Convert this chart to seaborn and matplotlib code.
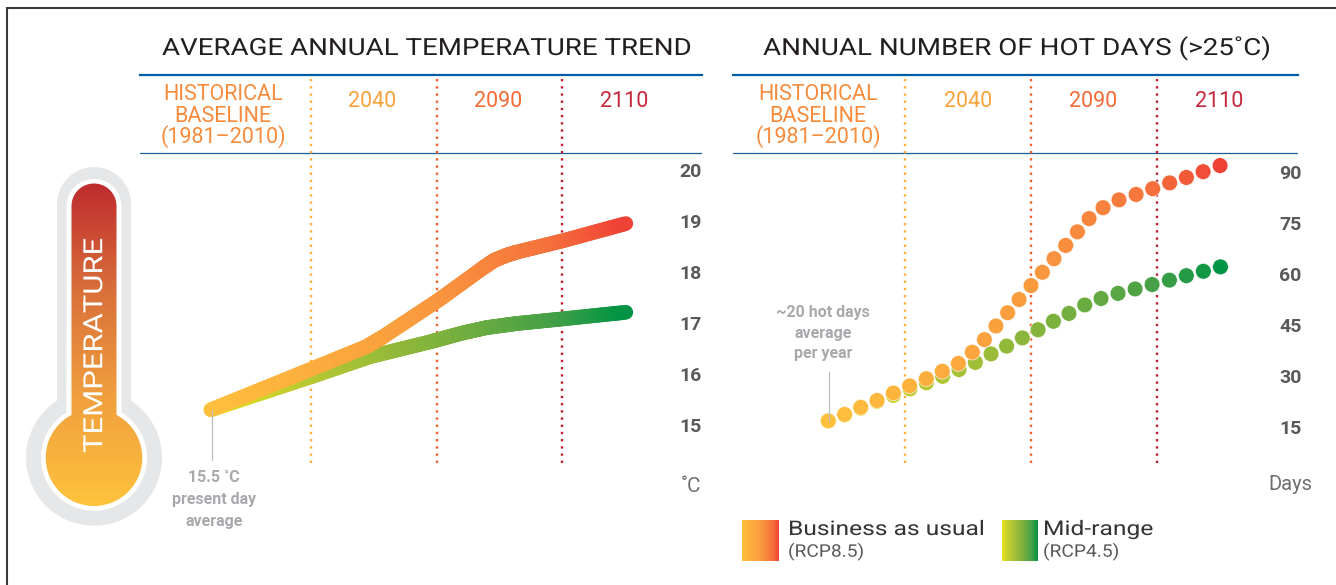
import numpy as np
import seaborn as sns
import matplotlib
matplotlib.use('Agg')
import matplotlib.pyplot as plt
import matplotlib.patheffects as pe
from matplotlib.collections import LineCollection
from matplotlib.colors import LinearSegmentedColormap
from matplotlib.patches import Polygon
from matplotlib.transforms import Affine2D

# x is measured in columns: 0, 1, 2 are the dotted lines of 2040, 2090, 2110
temp_bau_x = [-0.797, 0.006, 0.444, 0.574, 1.028, 1.37, 1.46, 1.56, 1.639, 2.002, 2.508]
temp_bau_y = [15.30, 16.10, 16.54, 16.73, 17.47, 18.08, 18.23, 18.33, 18.39, 18.61, 18.95]
temp_mid_x = [-0.797, 0.006, 0.47, 0.948, 1.2, 1.40, 1.639, 2.002, 2.508]
temp_mid_y = [15.30, 15.95, 16.34, 16.63, 16.80, 16.91, 16.99, 17.08, 17.21]

days_bau_x = [-0.613, -0.483, -0.355, -0.225, -0.095, 0.034, 0.167, 0.294, 0.422, 0.533,
              0.629, 0.721, 0.814, 0.905, 1.0, 1.09, 1.183, 1.276, 1.369, 1.462,
              1.573, 1.70, 1.836, 1.968, 2.103, 2.236, 2.369, 2.504]
days_bau_y = [16.8, 18.7, 20.8, 22.8, 25.0, 27.1, 29.2, 31.4, 33.7, 37.0,
              40.7, 44.7, 48.6, 52.5, 56.6, 60.5, 64.5, 68.4, 72.4, 76.3,
              79.5, 81.8, 83.4, 85.1, 86.8, 88.4, 90.1, 91.9]
days_mid_x = [-0.613, -0.483, -0.355, -0.225, -0.095, 0.037, 0.167, 0.297, 0.427, 0.557,
              0.682, 0.806, 0.931, 1.056, 1.178, 1.302, 1.427, 1.557, 1.692, 1.828,
              1.963, 2.101, 2.236, 2.371, 2.507]
days_mid_y = [16.8, 18.5, 20.5, 22.5, 24.3, 26.2, 28.0, 29.9, 31.9, 34.0,
              36.5, 38.8, 41.2, 43.6, 46.1, 48.4, 50.9, 52.8, 54.3, 55.6,
              56.9, 58.2, 59.5, 60.8, 62.1]

temp_ticks = [15, 16, 17, 18, 19, 20]
days_ticks = [15, 30, 45, 60, 75, 90]
period_lines = [0, 1, 2]
period_colors = ['#FBB040', '#F4602E', '#BE1E2D']
period_names = ['2040', '2090', '2110']
baseline_lines = ['HISTORICAL', 'BASELINE', '(1981–2010)']

W, H = 1336, 585

sns.set_style('white')
plt.rcParams['font.family'] = ['Roboto', 'DejaVu Sans']

bau_cmap = LinearSegmentedColormap.from_list(
    'bau', [(0, '#FFC03D'), (0.52, '#F99A3E'), (0.83, '#F5703C'), (1, '#EF4136')])
mid_cmap = LinearSegmentedColormap.from_list(
    'mid', [(0, '#E8E41E'), (0.2, '#BFCB30'), (0.5, '#8BB63B'), (0.83, '#46A047'), (1, '#009444')])
thermo_cmap = LinearSegmentedColormap.from_list(
    'thermo', ['#BE2B2E', '#D9703A', '#F0A03E', '#FFC33C'])


class Stretch(pe.AbstractPathEffect):
    def __init__(self, sx):
        super().__init__()
        self.sx = sx

    def draw_path(self, renderer, gc, tpath, affine, rgbFace=None):
        renderer.draw_path(gc, tpath, Affine2D().scale(self.sx, 1) + affine, rgbFace)


def label(x, y, s, **kw):
    kw.setdefault('ha', 'center')
    kw.setdefault('va', 'baseline')
    return fig.text(x / W, 1 - y / H, s, **kw)


def wide_label(x, y, s, width, rotation=0, **kw):
    # the source font is letter-spaced, so widen the text to the width it has there
    t = label(x, y, s, ha='left', **kw)
    have = t.get_window_extent(fig.canvas.get_renderer()).width
    t.set_path_effects([Stretch(width / have)])
    t.set_rotation(rotation)
    t.set_rotation_mode('anchor')
    return t


def chart_axes(x0, x1, y0=75, y1=463):
    ax = fig.add_axes([x0 / W, 1 - y1 / H, (x1 - x0) / W, (y1 - y0) / H], facecolor='none')
    sns.despine(ax=ax, left=True, bottom=True, right=True, top=False)
    ax.spines['top'].set_color('#005DA4')
    ax.spines['top'].set_linewidth(1.6)
    return ax


def finish_axes(ax, xlim, ylim, ticks, rule, pad):
    ax.set_xlim(xlim)
    ax.set_ylim(ylim)
    ax.set_xlabel('')
    ax.set_ylabel('')
    ax.set_xticks([])
    ax.yaxis.tick_right()
    ax.set_yticks(ticks)
    ax.tick_params(axis='y', length=0, pad=pad, labelsize=14, labelcolor='#58595B')
    for t in ax.get_yticklabels():
        t.set_fontweight('bold')
    ax.axhline(rule, color='#1B5E98', lw=0.9, zorder=1)
    for xv, col in zip(period_lines, period_colors):
        ax.axvline(xv, color=col, lw=1.7, ls=(0, (1, 2.05)), dash_capstyle='butt', zorder=1)


def gradient_line(ax, xs, ys, cmap):
    sns.lineplot(x=xs, y=ys, ax=ax, color=cmap(0.5), lw=8, sort=False, estimator=None,
                 legend=False, zorder=2)
    # colour changes along the line, so every read segment is cut into short pieces
    fine_x = np.concatenate([np.linspace(a, b, 25) for a, b in zip(xs[:-1], xs[1:])])
    fine_y = np.concatenate([np.linspace(a, b, 25) for a, b in zip(ys[:-1], ys[1:])])
    pts = np.column_stack([fine_x, fine_y])
    segs = np.stack([pts[:-1], pts[1:]], axis=1)
    tone = (fine_x[:-1] - xs[0]) / (xs[-1] - xs[0])
    ax.add_collection(LineCollection(segs, colors=cmap(tone), linewidths=10.6,
                                     capstyle='round', zorder=3))


def thermo_outline(r_tube, r_bulb, top):
    cx, cy = 94, 457.7
    drop = np.sqrt(r_bulb ** 2 - r_tube ** 2)
    a = np.linspace(np.pi, 0, 40)
    tube = np.column_stack([cx + r_tube * np.cos(a), top + r_tube - r_tube * np.sin(a)])
    start = np.arctan2(drop, r_tube)
    b = np.linspace(start, -np.pi - start, 80)
    bulb = np.column_stack([cx + r_bulb * np.cos(b), cy - r_bulb * np.sin(b)])
    return np.vstack([tube, bulb])


fig = plt.figure(figsize=(W / 100, H / 100), dpi=100, facecolor='white')

# page layer in pixels: frame, thermometer, legend swatches
bg = fig.add_axes([0, 0, 1, 1])
bg.set_axis_off()
bg.plot([7, 7, W], [H, 7.7, 7.7], color='#3A3A3C', lw=1.5, solid_joinstyle='miter')
bg.add_patch(Polygon(thermo_outline(37, 68, 167), color='#E6E7E8', lw=0))
bg.add_patch(Polygon(thermo_outline(27.5, 53, 179), color='white', lw=0))
fill = Polygon(thermo_outline(22.5, 48.3, 183.5), color='none', lw=0)
bg.add_patch(fill)
ramp = np.linspace(0, 1, 256)
im = bg.imshow(ramp[:, None], cmap=thermo_cmap, extent=(40, 150, 507, 183), aspect='auto', zorder=2)
im.set_clip_path(fill)
bg.imshow(ramp[None, :], cmap=bau_cmap, extent=(742, 779, 561, 520), aspect='auto')
bg.imshow(ramp[None, :], cmap=mid_cmap, extent=(1002, 1038, 561, 520), aspect='auto')
bg.set_xlim(0, W)
bg.set_ylim(H, 0)

# temperature chart
ax1 = chart_axes(140, 702)
gradient_line(ax1, temp_mid_x, temp_mid_y, mid_cmap)
gradient_line(ax1, temp_bau_x, temp_bau_y, bau_cmap)
ax1.plot([temp_bau_x[0] + 0.012] * 2, [temp_bau_y[0], 14.31], color='#BCBEC0', lw=0.9, zorder=4)
finish_axes(ax1, (-1.3625, 3.115), (14.255, 21.863), temp_ticks, 20.333, -16.6)

# hot days chart
ax2 = chart_axes(733, 1298)
ax2.plot([days_mid_x[0] + 0.004] * 2, [days_mid_y[0], 31.2], color='#BCBEC0', lw=0.9, zorder=6)
sns.scatterplot(x=days_mid_x, y=days_mid_y, hue=days_mid_x, palette=mid_cmap,
                hue_norm=(days_mid_x[0], days_mid_x[-1]), s=128, edgecolor='white', linewidth=0.4,
                legend=False, ax=ax2, zorder=3)
sns.scatterplot(x=days_bau_x, y=days_bau_y, hue=days_bau_x, palette=bau_cmap,
                hue_norm=(days_bau_x[0], days_bau_x[-1]), s=128, edgecolor='white', linewidth=0.4,
                legend=False, ax=ax2, zorder=4)
finish_axes(ax2, (-1.371, 3.124), (4.41, 118.53), days_ticks, 95.6, -13.7)

# titles
wide_label(162, 55, 'AVERAGE ANNUAL TEMPERATURE TREND', 531, fontsize=17, color='#231F20')
wide_label(763, 55, 'ANNUAL NUMBER OF HOT DAYS (>25˚C)', 509, fontsize=17, color='#231F20')

# column headings
for cx, cols in [(223, (372, 498, 624)), (818, (968, 1093.5, 1219))]:
    for s, y in zip(baseline_lines, (100, 122, 143)):
        label(cx, y, s, fontsize=15.5, color='#F68B3C')
    for c, s, col in zip(cols, period_names, ['#F9A13A', '#F26A36', '#C4273B']):
        label(c, 107, s, fontsize=15.5, color=col)

# notes
for s, y in zip(['15.5 ˚C', 'present day', 'average'], (482, 504, 526)):
    label(214, y, s, fontsize=11.5, fontweight='bold', color='#A7A9AC')
for s, y in zip(['~20 hot days', 'average', 'per year'], (317, 338, 358)):
    label(823, y, s, fontsize=11.5, fontweight='bold', color='#A7A9AC')
label(690.5, 492, '˚C', fontsize=15, color='#6D6E71')
label(1290, 490, 'Days', fontsize=14.5, color='#6D6E71')

wide_label(92.7 + 9.5, 453, 'TEMPERATURE', 215, rotation=90, fontsize=19, color='white', zorder=5)

# legend
wide_label(788, 535, 'Business as usual', 196, fontsize=14.5, color='#333335')
wide_label(788, 556.7, '(RCP8.5)', 76, fontsize=12.5, color='#58595B')
wide_label(1043, 535, 'Mid-range', 110, fontsize=14.5, color='#333335')
wide_label(1043, 556.7, '(RCP4.5)', 76, fontsize=12.5, color='#58595B')

fig.savefig('out.png', dpi=100, facecolor='white')
